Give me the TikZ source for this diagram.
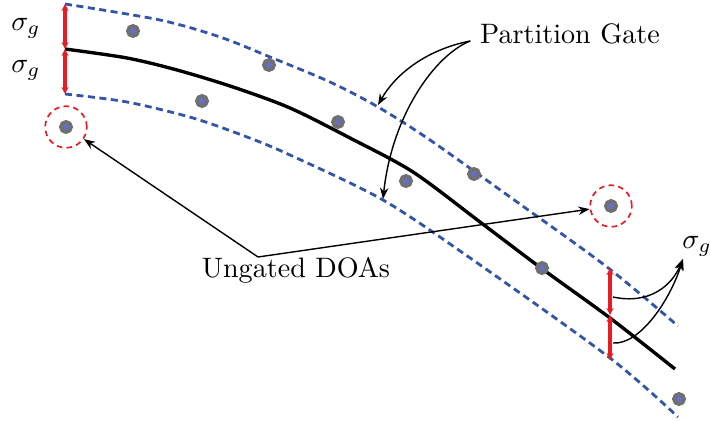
\documentclass[tikz,border=0pt]{standalone}
\usepackage{tikz}
\usetikzlibrary{arrows.meta}
\definecolor{gateblue}{RGB}{52,84,168}
\definecolor{gatered}{RGB}{232,28,36}
\definecolor{dotring}{RGB}{112,112,112}
\definecolor{dotfill}{RGB}{104,110,196}

\begin{document}
\begin{tikzpicture}[x=0.0125cm, y=0.0125cm,
    doa/.style={circle, draw=dotring, fill=dotfill, line width=1.25pt, inner sep=0pt, minimum size=0.13cm},
    miss/.style={circle, draw=gatered, dash pattern=on 2pt off 1.5pt, line width=0.6pt, inner sep=0pt, minimum size=0.52cm},
    gate/.style={gateblue, line width=1pt, dash pattern=on 2.5pt off 1.6pt},
    sig/.style={gatered, line width=1.2pt, >={Stealth[length=2.5pt,width=2.5pt]}, <->},
    lbl/.style={-{Stealth[length=4pt,width=3pt]}, line width=0.5pt}]
    \useasboundingbox (0,0) rectangle (710,-421);
    % Gate boundaries (upper and lower)
    \draw[gate] plot[smooth] coordinates {(65,-4) (160,-20) (220,-37) (270,-57) (330,-82) (378,-107) (430,-140) (510,-197) (607,-267) (678,-326)};
    \draw[gate] plot[smooth] coordinates {(65,-94) (127,-102) (193,-118) (247,-137) (290,-155) (383,-200) (473,-260) (610,-358) (678,-417)};
    % Predicted track
    \draw[line width=1.2pt] plot[smooth] coordinates {(65,-49) (127,-58) (177,-70) (233,-87) (290,-108) (350,-138) (413,-172) (480,-222) (541,-268) (610,-318) (675,-369)};
    % Gate width at both ends
    \draw[sig] (65,-4) -- (65,-49);
    \draw[sig] (65,-49) -- (65,-94);
    \draw[sig] (610,-268) -- (610,-315);
    \draw[sig] (610,-315) -- (610,-360);
    \node (sl1) at (26,-28) {$\sigma_g$};
    \node (sl2) at (26,-70) {$\sigma_g$};
    \node (sr) at (697,-246) {$\sigma_g$};
    \coordinate (sigtip) at (683,-259);
    \draw[lbl] (613,-297) .. controls (650,-305) and (672,-285) .. (sigtip);
    \draw[lbl] (613,-343) .. controls (640,-345) and (670,-300) .. (sigtip);
    % Gated DOAs
    \node[doa] (d1) at (133,-31) {};
    \node[doa] (d2) at (269,-65) {};
    \node[doa] (d3) at (202,-101) {};
    \node[doa] (d4) at (338,-122) {};
    \node[doa] (d5) at (406,-181) {};
    \node[doa] (d6) at (474,-174) {};
    \node[doa] (d7) at (542,-268) {};
    \node[doa] (d8) at (679,-399) {};
    % Ungated DOAs
    \node[miss] (m1) at (66,-127) {};
    \node[doa] (u1) at (66,-127) {};
    \node[miss] (m2) at (611,-206) {};
    \node[doa] (u2) at (611,-206) {};
    \node (ug) at (296,-270) {Ungated DOAs};
    \coordinate (ugtip) at (258,-257);
    \draw[lbl] (ugtip) -- (m1);
    \draw[lbl] (ugtip) -- (m2);
    % Partition gate
    \node (pg) at (570,-34) {Partition Gate};
    \coordinate (gtop) at (378,-105);
    \coordinate (gbot) at (383,-199);
    \draw[lbl] (pg.184) .. controls (425,-50) and (395,-75) .. (gtop);
    \draw[lbl] (pg.184) .. controls (435,-55) and (392,-115) .. (gbot);
\end{tikzpicture}
\end{document}
